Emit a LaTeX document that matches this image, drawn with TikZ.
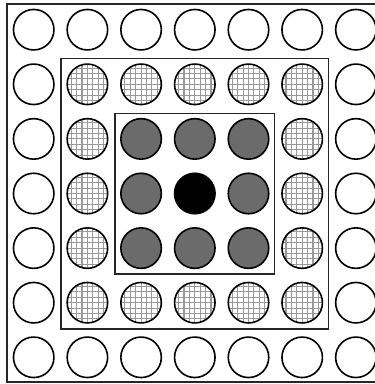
\documentclass[tikz,border=0pt]{standalone}
\begin{document}
\begin{tikzpicture}[x=1pt,y=-1pt,
  disc/.style={circle,minimum size=40.5pt,inner sep=0pt,draw=black,line width=1.6pt},
  ring/.style={disc,fill=white},
  mid/.style={disc,fill=black!58},
  core/.style={disc,fill=black},
  hatchline/.style={black!40,line width=1.1pt},
  frame/.style={draw=black!85,line width=1.2pt}]
\useasboundingbox (0,0) rectangle (375,384);
\clip (0,0) rectangle (375,384);
\fill[white] (0,0) rectangle (375,384);
\draw[frame] (7,4) rectangle (390,382);
\draw[frame] (61,58.5) rectangle (328.5,329);
\draw[frame] (115,113.5) rectangle (274.5,274);
\foreach \i in {0,...,6}{
  \foreach \j in {0,...,6}{
    \pgfmathsetmacro{\cx}{33.7+\i*53.7}
    \pgfmathsetmacro{\cy}{29.7+\j*54.6}
    \pgfmathtruncatemacro{\d}{max(abs(\i-3),abs(\j-3))}
    \ifnum\d=3
      \node[ring] (c\i\j) at (\cx,\cy) {};
    \fi
    \ifnum\d=2
      \begin{scope}
        \clip (\cx,\cy) circle (20.2);
        \fill[white] (\cx-21,\cy-21) rectangle (\cx+21,\cy+21);
        \foreach \k in {-3,...,3}{
          \draw[hatchline] (\cx+\k*5.4,\cy-21) -- (\cx+\k*5.4,\cy+21);
          \draw[hatchline] (\cx-21,\cy+\k*5.4) -- (\cx+21,\cy+\k*5.4);
        }
      \end{scope}
      \node[disc] (c\i\j) at (\cx,\cy) {};
    \fi
    \ifnum\d=1
      \node[mid] (c\i\j) at (\cx,\cy) {};
    \fi
    \ifnum\d=0
      \node[core] (c\i\j) at (\cx,\cy) {};
    \fi
  }
}
\end{tikzpicture}
\end{document}
